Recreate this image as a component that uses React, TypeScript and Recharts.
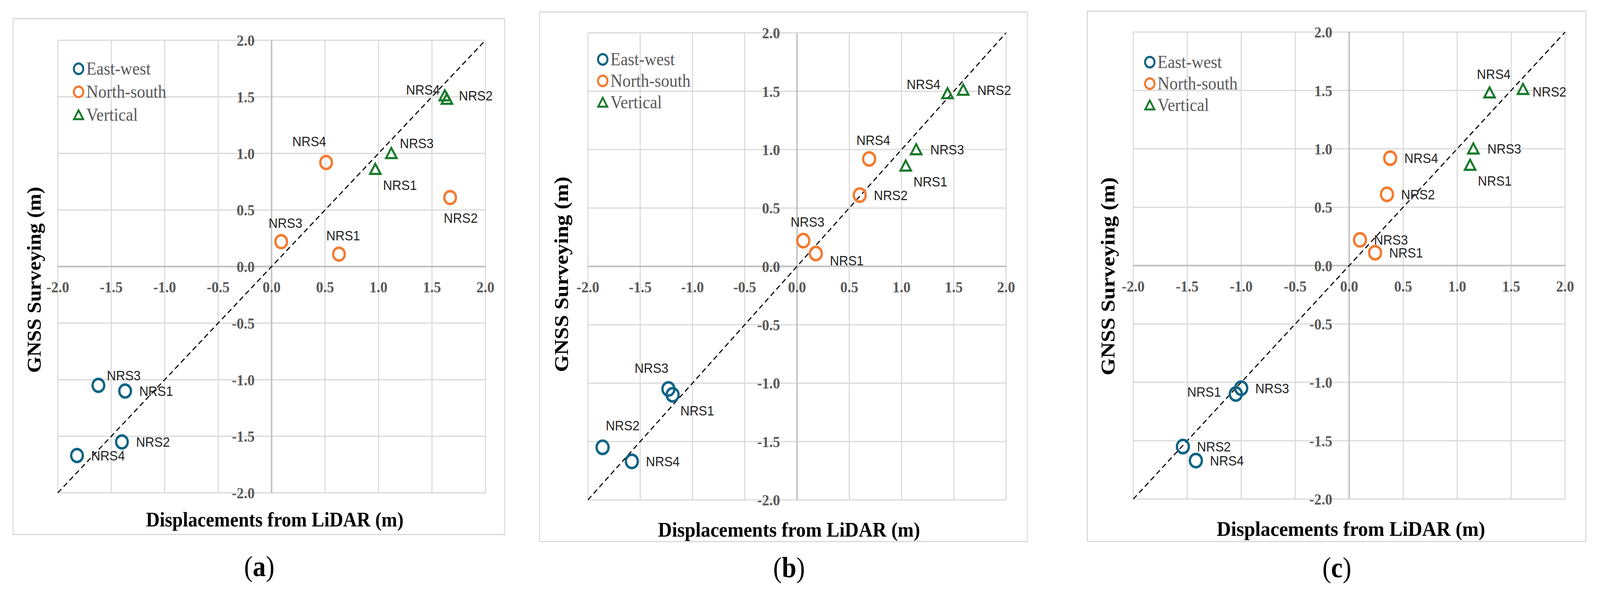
import React from "react";
import { ScatterChart, Scatter, XAxis, YAxis, CartesianGrid, ReferenceLine, Legend } from "recharts";

const TICKS = [-2, -1.5, -1, -0.5, 0, 0.5, 1, 1.5, 2];
const STATIONS = ["NRS1", "NRS2", "NRS3", "NRS4"];
const SERIES_NAMES = ["East-west", "North-south", "Vertical"];
const COLORS = ["#0E6384", "#F47A2E", "#17792A"];

// GNSS surveying values, same in all three panels (NRS1..NRS4)
const gnssEW = [-1.1, -1.55, -1.05, -1.67];
const gnssNS = [0.11, 0.61, 0.22, 0.92];
const gnssV = [0.86, 1.51, 1.0, 1.48];

// LiDAR displacements per panel (NRS1..NRS4)
const lidarA_EW = [-1.37, -1.4, -1.62, -1.82];
const lidarA_NS = [0.63, 1.67, 0.09, 0.51];
const lidarA_V = [0.97, 1.62, 1.12, 1.64];

const lidarB_EW = [-1.19, -1.86, -1.23, -1.58];
const lidarB_NS = [0.18, 0.6, 0.06, 0.69];
const lidarB_V = [1.04, 1.59, 1.14, 1.44];

const lidarC_EW = [-1.05, -1.54, -1.0, -1.42];
const lidarC_NS = [0.24, 0.35, 0.1, 0.38];
const lidarC_V = [1.12, 1.61, 1.15, 1.3];

// where each station label sits relative to its marker
const placeA = [["r", "r", "tr", "r"], ["t", "b", "t", "ul"], ["br", "r", "tr", "tl"]];
const placeB = [["br", "ur", "ul", "r"], ["rd", "r", "t", "t"], ["br", "r", "r", "tl"]];
const placeC = [["l", "r", "r", "r"], ["r", "r", "r", "r"], ["br", "rn", "r", "t"]];

const SERIF = "'Liberation Serif', 'Times New Roman', serif";
const SANS = "'Liberation Sans', Arial, sans-serif";

// design size of the figure
const W = 4542;
const H = 1507;

const OFFS: Record<string, [number, number, string]> = {
  r: [40, 0, "start"],
  rd: [40, 18, "start"],
  rn: [27, 6, "start"],
  l: [-42, -6, "end"],
  t: [12, -48, "middle"],
  b: [30, 52, "middle"],
  tr: [72, -26, "middle"],
  ur: [57, -56, "middle"],
  tl: [-68, -24, "middle"],
  ul: [-48, -54, "middle"],
  br: [70, 40, "middle"],
};

const fmt = (v: number) => v.toFixed(1);

function makeShape(kind: string, color: string, r: number) {
  return (props: any) => {
    const { cx, cy, payload } = props;
    const [dx, dy, anchor] = OFFS[payload.at];
    const mark =
      kind === "circle" ? (
        <circle cx={cx} cy={cy} r={r} fill="none" stroke={color} strokeWidth={6.5} />
      ) : (
        <polygon
          points={`${cx},${cy - 14} ${cx + 15},${cy + 12} ${cx - 15},${cy + 12}`}
          fill="none"
          stroke={color}
          strokeWidth={5.5}
        />
      );
    return (
      <g>
        {mark}
        <text x={cx + dx} y={cy + dy} textAnchor={anchor} dominantBaseline="central" fontFamily={SANS} fontSize={36} fill="#1f1f1f">
          {payload.name}
        </text>
      </g>
    );
  };
}

function LegendBox({ rowH }: { rowH: number }) {
  return (
    <div>
      {SERIES_NAMES.map((n, i) => (
        <div key={n} style={{ display: "flex", alignItems: "center", height: rowH }}>
          <svg width={39} height={36}>
            {i < 2 ? (
              <circle cx={17} cy={18} r={13.5} fill="none" stroke={COLORS[i]} strokeWidth={5.5} />
            ) : (
              <polygon points="17,6 30,29 4,29" fill="none" stroke={COLORS[i]} strokeWidth={5} />
            )}
          </svg>
          <span style={{ fontFamily: SERIF, fontSize: 47, color: "#595959", lineHeight: 1, whiteSpace: "nowrap" }}>{n}</span>
        </div>
      ))}
    </div>
  );
}

type PanelProps = {
  letter: string;
  fx: number;
  fy: number;
  fw: number;
  fh: number;
  m: { top: number; right: number; bottom: number; left: number };
  lidar: number[][];
  place: string[][];
  legend: { left: number; top: number; rowH: number };
  xTitle: { x: number; y: number; len: number };
  yTitle: { x: number; y: number; len: number };
  caption: { x: number; y: number };
  r: number;
};

function Panel(p: PanelProps) {
  const plotW = p.fw - p.m.left - p.m.right;
  const plotH = p.fh - p.m.top - p.m.bottom;
  const zeroX = p.m.left + plotW / 2;
  const zeroY = p.m.top + plotH / 2;
  const gnss = [gnssEW, gnssNS, gnssV];
  const series = SERIES_NAMES.map((name, s) => ({
    name,
    data: STATIONS.map((st, i) => ({ x: p.lidar[s][i], y: gnss[s][i], name: st, at: p.place[s][i] })),
  }));
  // axes take 1px each so that they still render
  const margin = { top: p.m.top, right: p.m.right, bottom: p.m.bottom - 1, left: p.m.left - 1 };

  return (
    <>
      <div
        style={{
          position: "absolute",
          left: p.fx,
          top: p.fy,
          width: p.fw,
          height: p.fh,
          boxShadow: "inset 0 0 0 3px #d9d9d9",
        }}
      >
        <ScatterChart width={p.fw} height={p.fh} margin={margin}>
          <CartesianGrid stroke="#d9d9d9" strokeWidth={3} />
          <XAxis
            type="number"
            dataKey="x"
            domain={[-2, 2]}
            ticks={TICKS}
            axisLine={false}
            tickLine={false}
            height={1}
            interval={0}
            tick={(t: any) => (
              <text x={t.x} y={zeroY + 52} textAnchor="middle" dominantBaseline="central" fontFamily={SERIF} fontWeight="bold" fontSize={41} fill="#595959">
                {fmt(t.payload.value)}
              </text>
            )}
            label={() => (
              <text
                x={p.xTitle.x}
                y={p.xTitle.y}
                textAnchor="middle"
                dominantBaseline="central"
                fontFamily={SERIF}
                fontWeight="bold"
                fontSize={53}
                fill="#000"
                textLength={p.xTitle.len}
                lengthAdjust="spacingAndGlyphs"
              >
                Displacements from LiDAR (m)
              </text>
            )}
          />
          <YAxis
            type="number"
            dataKey="y"
            domain={[-2, 2]}
            ticks={TICKS}
            axisLine={false}
            tickLine={false}
            width={1}
            interval={0}
            tick={(t: any) => (
              <text x={zeroX - 48} y={t.y} textAnchor="end" dominantBaseline="central" fontFamily={SERIF} fontWeight="bold" fontSize={41} fill="#595959">
                {fmt(t.payload.value)}
              </text>
            )}
            label={() => (
              <text
                x={p.yTitle.x}
                y={p.yTitle.y}
                transform={`rotate(-90, ${p.yTitle.x}, ${p.yTitle.y})`}
                textAnchor="middle"
                dominantBaseline="central"
                fontFamily={SERIF}
                fontWeight="bold"
                fontSize={55}
                fill="#000"
                textLength={p.yTitle.len}
                lengthAdjust="spacingAndGlyphs"
              >
                GNSS Surveying (m)
              </text>
            )}
          />
          <ReferenceLine x={0} stroke="#bfbfbf" strokeWidth={4} />
          <ReferenceLine y={0} stroke="#bfbfbf" strokeWidth={4} />
          <ReferenceLine
            segment={[
              { x: -2, y: -2 },
              { x: 2, y: 2 },
            ]}
            stroke="#000"
            strokeWidth={3}
            strokeDasharray="14 9"
          />
          <Legend
            layout="vertical"
            align="center"
            verticalAlign="middle"
            wrapperStyle={{ left: p.legend.left, top: p.legend.top, width: "auto" }}
            content={() => <LegendBox rowH={p.legend.rowH} />}
          />
          {series.map((s, i) => (
            <Scatter
              key={s.name}
              name={s.name}
              data={s.data}
              fill={COLORS[i]}
              isAnimationActive={false}
              shape={makeShape(i < 2 ? "circle" : "triangle", COLORS[i], p.r)}
            />
          ))}
        </ScatterChart>
      </div>
      <div
        style={{
          position: "absolute",
          left: p.caption.x - 100,
          top: p.caption.y - 45,
          width: 200,
          height: 90,
          lineHeight: "90px",
          textAlign: "center",
          fontFamily: SERIF,
          fontSize: 74,
          color: "#000",
        }}
      >
        (<b>{p.letter}</b>)
      </div>
    </>
  );
}

export default function App() {
  // the window may come out narrower than the figure, so fit the figure to it
  const vw = typeof window !== "undefined" ? window.innerWidth : W;
  const vh = typeof window !== "undefined" ? window.innerHeight : H;
  const kx = Math.min(1, vw / W);
  const ky = Math.min(1, vh / H);
  return (
    <div style={{ position: "absolute", left: 0, top: 0, width: W * kx, height: H * ky, overflow: "hidden", background: "#fff" }}>
      <div
        style={{
          position: "absolute",
          left: 0,
          top: 0,
          width: W,
          height: H,
          background: "#fff",
          transform: `scale(${kx}, ${ky})`,
          transformOrigin: "0 0",
        }}
      >
        <Panel
          letter="a"
          fx={36}
          fy={46}
          fw={1398}
          fh={1323}
          m={{ top: 57, right: 56, bottom: 108, left: 128 }}
          lidar={[lidarA_EW, lidarA_NS, lidarA_V]}
          place={placeA}
          legend={{ left: 170, top: 100, rowH: 59 }}
          xTitle={{ x: 744, y: 1283, len: 731 }}
          yTitle={{ x: 60, y: 670, len: 476 }}
          caption={{ x: 736, y: 1449 }}
          r={16.5}
        />
        <Panel
          letter="b"
          fx={1530}
          fy={29}
          fw={1388}
          fh={1358}
          m={{ top: 55, right: 62, bottom: 108, left: 139 }}
          lidar={[lidarB_EW, lidarB_NS, lidarB_V]}
          place={placeB}
          legend={{ left: 164, top: 95, rowH: 55 }}
          xTitle={{ x: 710, y: 1326, len: 744 }}
          yTitle={{ x: 63, y: 673, len: 500 }}
          caption={{ x: 2240, y: 1452 }}
          r={17}
        />
        <Panel
          letter="c"
          fx={3085}
          fy={27}
          fw={1418}
          fh={1360}
          m={{ top: 55, right: 60, bottom: 110, left: 132 }}
          lidar={[lidarC_EW, lidarC_NS, lidarC_V]}
          place={placeC}
          legend={{ left: 162, top: 104, rowH: 55 }}
          xTitle={{ x: 750, y: 1326, len: 762 }}
          yTitle={{ x: 60, y: 680, len: 507 }}
          caption={{ x: 3795, y: 1452 }}
          r={17}
        />
      </div>
    </div>
  );
}
